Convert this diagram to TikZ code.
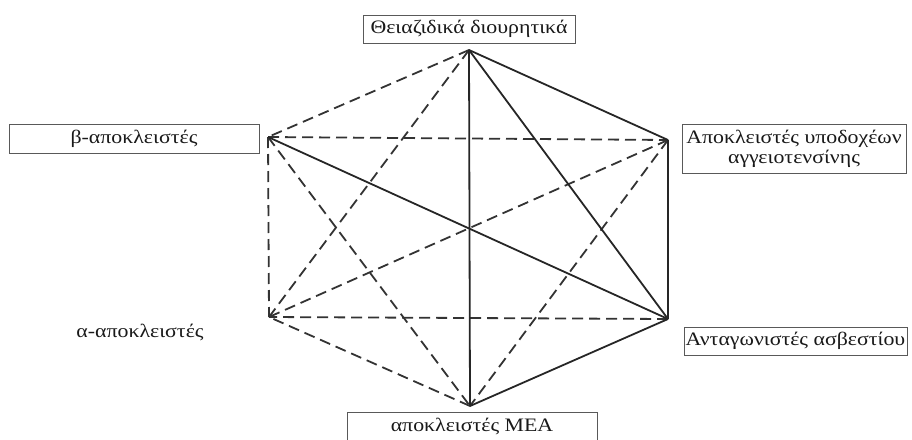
\documentclass[tikz,border=0pt]{standalone}
\usepackage{fontspec}
\setmainfont[FakeStretch=1.15]{Liberation Serif}
\begin{document}
\begin{tikzpicture}[x=1pt,y=-1pt,
  lbl/.style={draw=black!65, line width=1pt, fill=white, inner sep=0pt, align=center, font=\fontsize{19}{20}\selectfont, text=black!90},
  sol/.style={draw=black!85, line width=1.8pt},
  dsh/.style={draw=black!80, line width=1.8pt, dash pattern=on 11pt off 6pt}]
\useasboundingbox (0,0) rectangle (912,439);
\clip (0,0) rectangle (912,439);
\coordinate (T) at (469,50);
\coordinate (UL) at (268,137);
\coordinate (UR) at (668,140);
\coordinate (LR) at (668,319);
\coordinate (B) at (470,406);
\coordinate (LL) at (269,317);
% dashed links
\draw[dsh] (T) -- (UL);
\draw[dsh] (T) -- (LL);
\draw[dsh] (UL) -- (UR);
\draw[dsh] (UL) -- (B);
\draw[dsh] (UL) -- (LL);
\draw[dsh] (UR) -- (B);
\draw[dsh] (UR) -- (LL);
\draw[dsh] (LR) -- (LL);
\draw[dsh] (B) -- (LL);
% solid links
\draw[sol] (T) -- (UR);
\draw[sol] (T) -- (LR);
\draw[sol] (T) -- (B);
\draw[sol] (UL) -- (LR);
\draw[sol] (UR) -- (LR);
\draw[sol] (LR) -- (B);
% labels
\node[lbl, minimum width=212pt, minimum height=28pt] (thz) at (469,29) {Θειαζιδικά διουρητικά};
\node[lbl, minimum width=250pt, minimum height=29pt] (beta) at (134,138.5) {β-αποκλειστές};
\node[lbl, minimum width=224pt, minimum height=49pt] (arb) at (794,148.5) {Αποκλειστές υποδοχέων\\αγγειοτενσίνης};
\node[lbl, minimum width=223pt, minimum height=28pt] (ccb) at (795.5,341) {Ανταγωνιστές ασβεστίου};
\node[lbl, minimum width=250pt, minimum height=28pt] (ace) at (472,426) {αποκλειστές ΜΕΑ};
\node[font=\fontsize{19}{20}\selectfont, text=black!90] (alpha) at (140,332) {α-αποκλειστές};
\end{tikzpicture}
\end{document}
